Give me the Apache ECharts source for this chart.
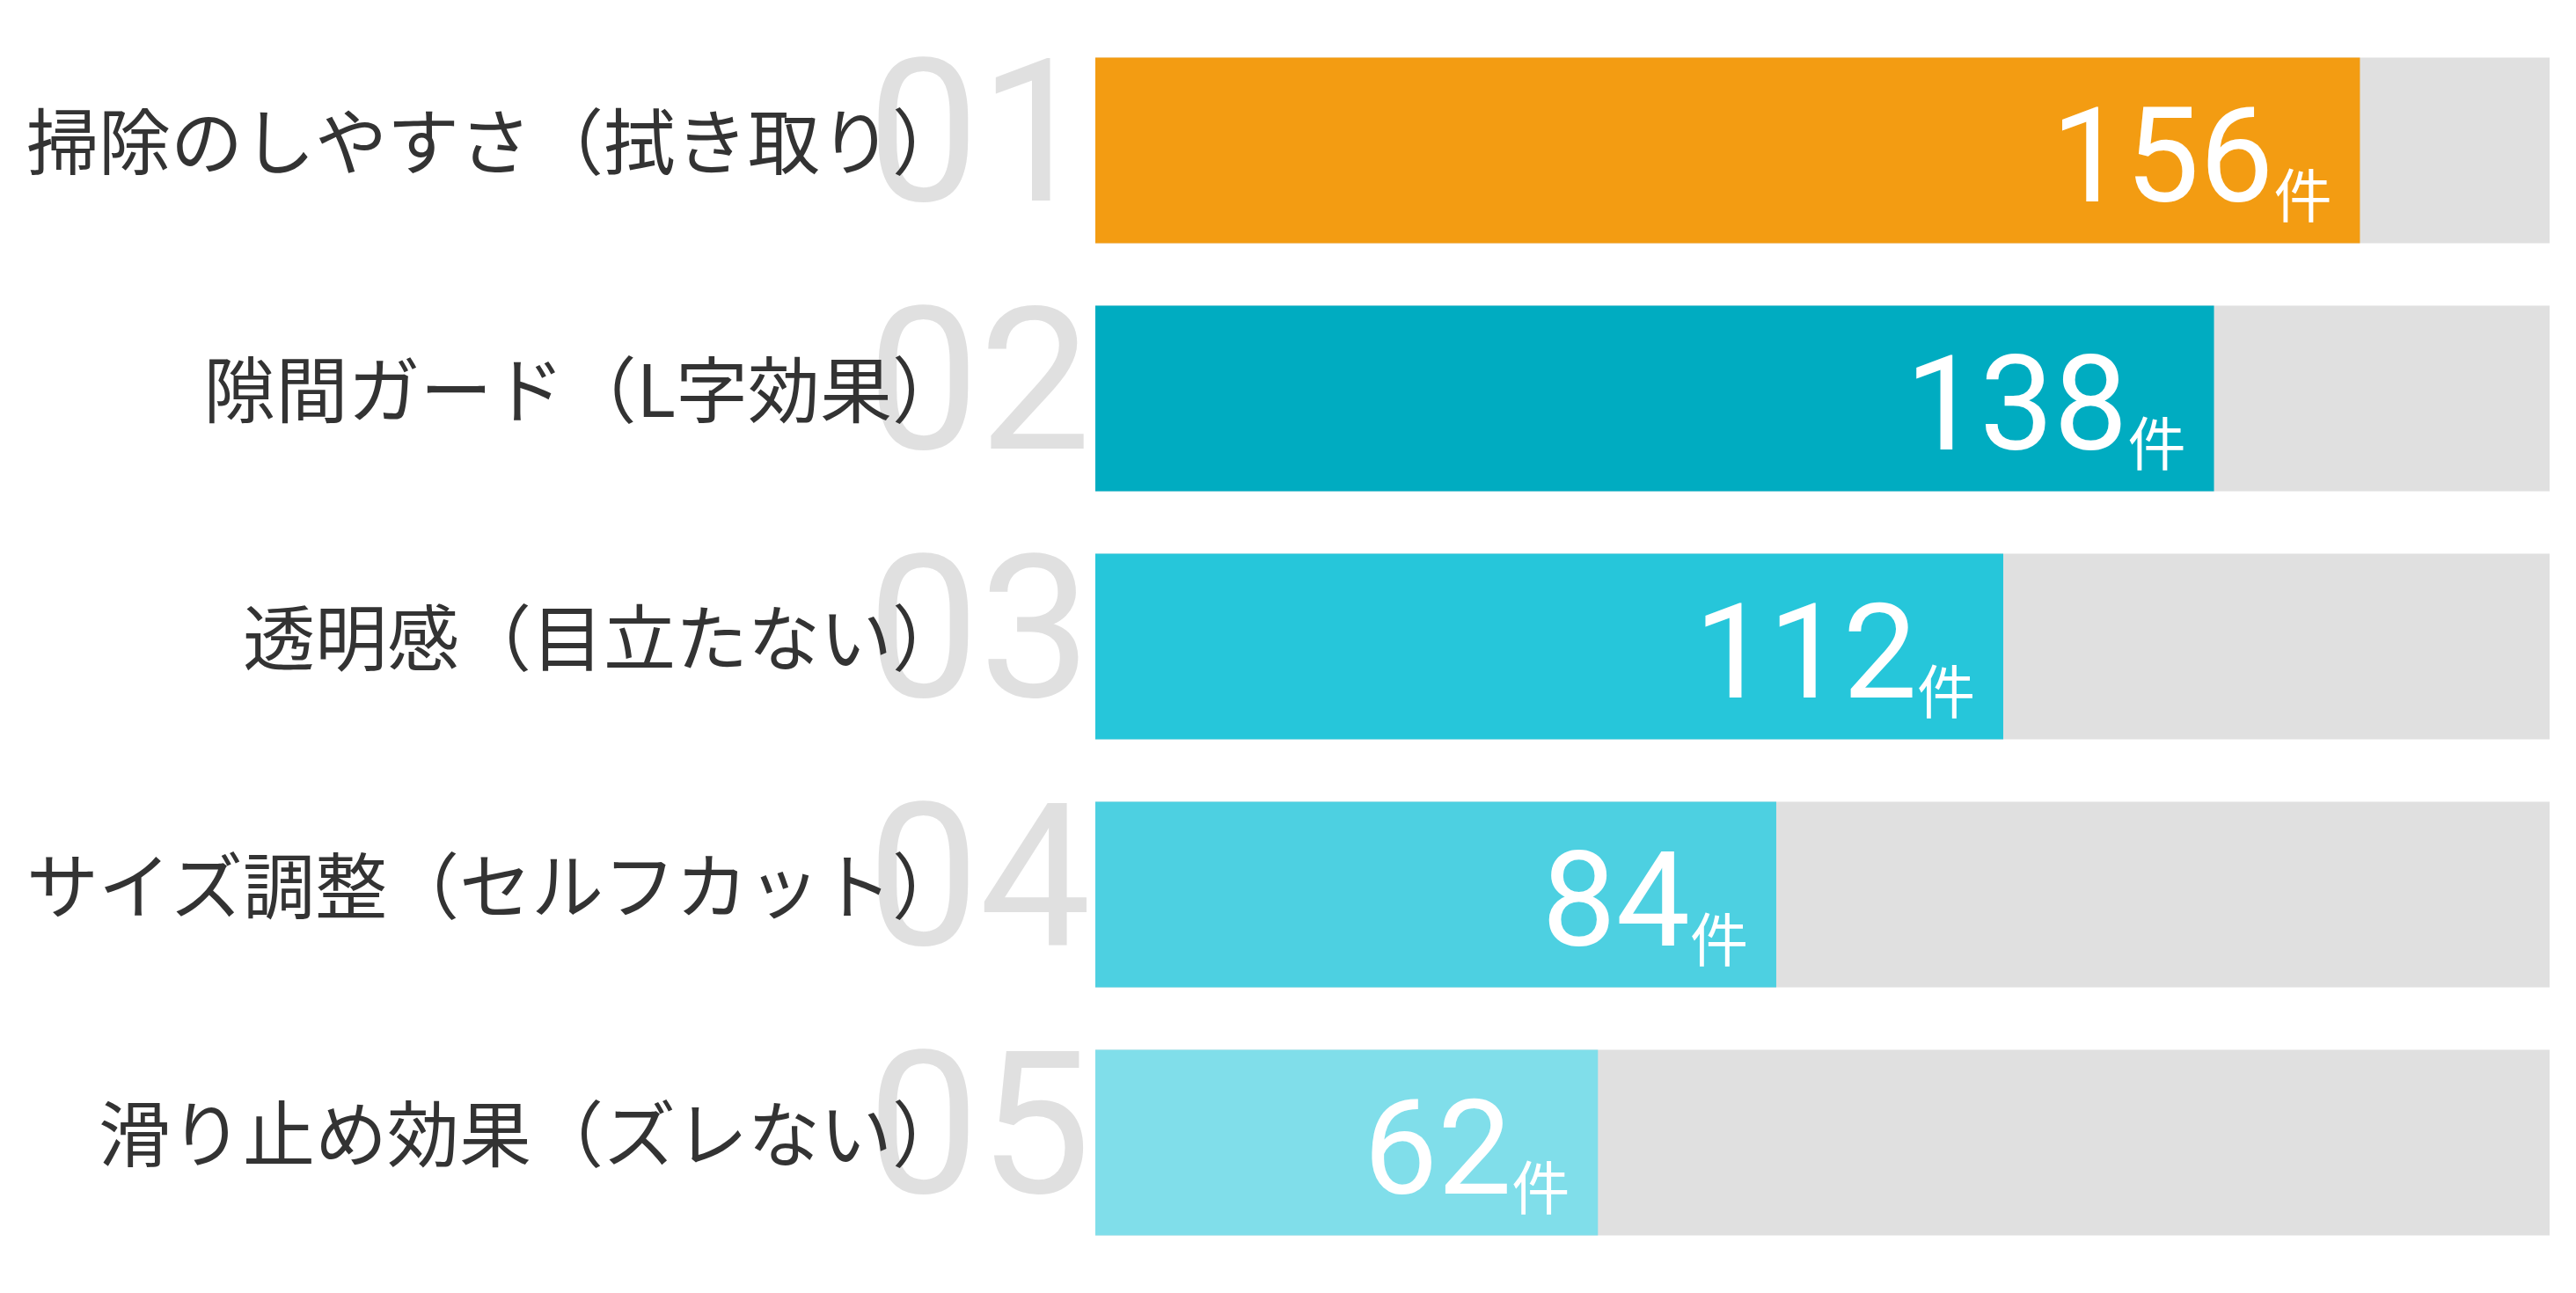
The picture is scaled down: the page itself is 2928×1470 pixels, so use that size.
<!DOCTYPE html>
<html>
<head>
<meta charset="utf-8">
<script src="https://cdn.jsdelivr.net/npm/echarts@6/dist/echarts.min.js"></script>
<style>
  html, body { margin: 0; background: #fff; }
  #main { width: 2928px; height: 1470px; }
</style>
</head>
<body>
<div id="main"></div>
<script>
const categories = [
  '掃除のしやすさ（拭き取り）',
  '隙間ガード（L字効果）',
  '透明感（目立たない）',
  'サイズ調整（セルフカット）',
  '滑り止め効果（ズレない）'
]
const counts = [156, 138, 112, 84, 62]
const rankLabels = ['01', '02', '03', '04', '05']
const barColors = ['#F39C12', '#00ACC1', '#26C6DA', '#4DD0E1', '#80DEEA']
const unit = '件'

const chart = echarts.init(document.getElementById('main'))
const option = {
  animation: false,
  grid: { left: 1245, right: 30, top: 30, bottom: 30 },
  xAxis: { type: 'value', min: 0, max: Math.max(...counts) * 1.15, show: false },
  yAxis: [
    {
      type: 'category',
      inverse: true,
      position: 'left',
      data: rankLabels,
      z: 1,
      axisLine: { show: false },
      axisTick: { show: false },
      axisLabel: {
        interval: 0,
        margin: 259,
        align: 'left',
        fontSize: 226,
        fontFamily: 'Roboto',
        fontWeight: 400,
        color: '#E0E0E0'
      }
    },
    {
      type: 'category',
      inverse: true,
      position: 'left',
      data: categories,
      z: 2,
      axisLine: { show: false },
      axisTick: { show: false },
      axisLabel: {
        interval: 0,
        margin: 149,
        fontSize: 82,
        fontFamily: 'Noto Sans CJK JP',
        color: '#333',
        verticalAlign: 'bottom',
        lineHeight: 20
      }
    }
  ],
  series: [
    {
      type: 'bar',
      yAxisIndex: 0,
      barWidth: 211,
      showBackground: true,
      backgroundStyle: { color: '#E0E0E0' },
      data: counts.map((v, i) => ({ value: v, itemStyle: { color: barColors[i] } })),
      label: {
        show: true,
        position: 'insideRight',
        distance: 32,
        offset: [0, 20],
        formatter: p => `{v|${p.value}}{u|${unit}}`,
        rich: {
          v: { fontSize: 150, color: '#fff', fontFamily: 'Roboto', verticalAlign: 'bottom', lineHeight: 86 },
          u: { fontSize: 66, color: '#fff', fontFamily: 'Noto Sans CJK JP', verticalAlign: 'bottom', lineHeight: 150, padding: [0, 0, 11, 0] }
        }
      }
    }
  ]
}
chart.setOption(option)
</script>
</body>
</html>
